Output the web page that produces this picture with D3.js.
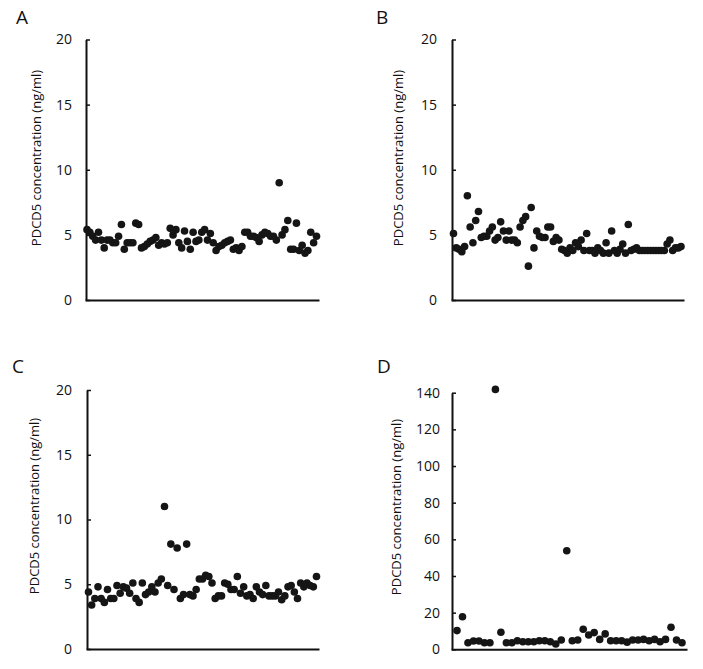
<!DOCTYPE html>
<html>
<head>
<meta charset="utf-8">
<script src="https://cdn.jsdelivr.net/npm/d3@7/dist/d3.min.js"></script>
<style>
  html, body { margin: 0; padding: 0; background: #fff; }
  svg { display: block; }
  text { font-family: "Open Sans", "Noto Sans", sans-serif; fill: #111; }
</style>
</head>
<body>
<svg id="chart" width="703" height="669"></svg>
<script>
// ---- Data ----
const panelLetters = ["A", "B", "C", "D"];
const yAxisTitle = "PDCD5 concentration (ng/ml)";
const ticksSmall = [0, 5, 10, 15, 20];
const ticksLarge = [0, 20, 40, 60, 80, 100, 120, 140];

const valuesA = [5.4, 5.2, 4.9, 4.6, 5.2, 4.6, 4.0, 4.6, 4.6, 4.4, 4.4, 4.9, 5.8, 3.9, 4.4, 4.4,
  4.4, 5.9, 5.8, 4.0, 4.1, 4.3, 4.5, 4.6, 4.8, 4.2, 4.4, 4.3, 4.4, 5.5, 5.0, 5.4, 4.4, 4.0,
  5.3, 4.5, 3.9, 5.2, 4.5, 4.6, 5.2, 5.4, 4.6, 5.1, 4.4, 3.8, 4.1, 4.2, 4.4, 4.5, 4.6, 3.9,
  4.0, 3.8, 4.1, 5.2, 5.2, 4.9, 4.9, 4.8, 4.5, 5.0, 5.2, 5.1, 4.9, 4.9, 4.6, 9.0, 5.0, 5.4,
  6.1, 3.9, 3.9, 5.9, 3.8, 4.2, 3.6, 3.8, 5.2, 4.4, 4.9];

const valuesB = [5.1, 4.0, 3.9, 3.7, 4.1, 8.0, 5.6, 4.4, 6.1, 6.8, 4.8, 4.9, 4.9, 5.3, 5.6, 4.6,
  4.8, 6.0, 5.3, 4.6, 5.3, 4.6, 4.6, 4.4, 5.6, 6.1, 6.4, 2.6, 7.1, 4.0, 5.3, 4.9, 4.8, 4.8,
  5.6, 5.6, 4.5, 4.8, 4.6, 3.9, 3.8, 3.6, 4.0, 3.8, 4.4, 4.1, 4.6, 3.8, 5.1, 3.8, 3.8, 3.6,
  4.0, 3.8, 3.6, 4.4, 3.6, 5.3, 3.8, 3.6, 3.9, 4.3, 3.6, 5.8, 3.8, 3.9, 4.0, 3.8, 3.8, 3.8,
  3.8, 3.8, 3.8, 3.8, 3.8, 3.8, 3.8, 4.3, 4.6, 3.8, 4.0, 4.0, 4.1];

const valuesC = [4.4, 3.4, 3.9, 4.8, 3.9, 3.6, 4.6, 3.9, 3.9, 4.9, 4.3, 4.8, 4.7, 4.3, 5.1, 3.9,
  3.6, 5.1, 4.2, 4.4, 4.8, 4.4, 5.1, 5.4, 11.0, 4.9, 8.1, 4.6, 7.8, 3.9, 4.2, 8.1, 4.2, 4.1,
  4.6, 5.4, 5.4, 5.7, 5.6, 5.1, 3.9, 4.1, 4.1, 5.1, 5.0, 4.6, 4.6, 5.6, 4.3, 4.8, 4.1, 4.2,
  3.9, 4.8, 4.4, 4.2, 4.9, 4.1, 4.1, 4.1, 4.4, 3.8, 4.1, 4.8, 4.9, 4.4, 3.9, 5.1, 4.8, 5.1,
  4.9, 4.8, 5.6];

const valuesD = [10.2, 17.8, 3.6, 4.5, 4.5, 3.6, 3.6, 141.8, 9.3, 3.6, 3.6, 4.7, 4.1, 4.1, 4.1,
  4.7, 4.7, 4.1, 2.9, 5.1, 53.8, 4.7, 5.1, 10.9, 7.8, 9.1, 5.4, 8.4, 4.7, 4.7, 4.7, 3.9, 5.1,
  5.1, 5.4, 4.7, 5.4, 4.1, 5.4, 12.0, 5.1, 3.6];

// ---- Layout (positions / styles only) ----
const panels = [
  { letter: panelLetters[0], values: valuesA, ticks: ticksSmall, max: 20,
    axisX: 86, right: 319, top: 39.5, bottom: 300, dotL: 87, dotR: 316.5,
    letterX: 16, letterY: 24, titleX: 36, titleY: 158, tickGap: 14 },
  { letter: panelLetters[1], values: valuesB, ticks: ticksSmall, max: 20,
    axisX: 452, right: 684, top: 39.5, bottom: 300, dotL: 453.5, dotR: 681,
    letterX: 376, letterY: 24, titleX: 398, titleY: 158, tickGap: 15 },
  { letter: panelLetters[2], values: valuesC, ticks: ticksSmall, max: 20,
    axisX: 87, right: 319, top: 390, bottom: 649, dotL: 88.5, dotR: 316.5,
    letterX: 12, letterY: 373, titleX: 34, titleY: 506, tickGap: 15 },
  { letter: panelLetters[3], values: valuesD, ticks: ticksLarge, max: 140,
    axisX: 452, right: 687, top: 392.7, bottom: 649.3, dotL: 457, dotR: 682,
    letterX: 377, letterY: 373, titleX: 396, titleY: 507, tickGap: 12 }
];

const svg = d3.select("#chart");

panels.forEach(p => {
  const g = svg.append("g");
  const y = d3.scaleLinear().domain([0, p.max]).range([p.bottom, p.top]);
  const x = d3.scalePoint().domain(d3.range(p.values.length)).range([p.dotL, p.dotR]);

  // Y axis
  const yAxis = d3.axisLeft(y).tickValues(p.ticks).tickSizeInner(-4).tickSizeOuter(0).tickPadding(p.tickGap);
  const ya = g.append("g").attr("transform", `translate(${p.axisX},0)`).call(yAxis);
  ya.select(".domain").attr("stroke", "#111").attr("stroke-width", 2);
  ya.selectAll(".tick line").attr("stroke", "#111").attr("stroke-width", 1.5);
  ya.selectAll(".tick text").attr("font-size", 14).attr("fill", "#111")
    .attr("font-family", "'Open Sans', 'Noto Sans', sans-serif");

  // X axis (plain baseline, no ticks)
  const xs = d3.scaleLinear().domain([0, 1]).range([p.axisX - 1, p.right]);
  const xAxis = d3.axisBottom(xs).tickValues([]).tickSizeOuter(0);
  const xa = g.append("g").attr("transform", `translate(0,${p.bottom})`).call(xAxis);
  xa.select(".domain").attr("stroke", "#111").attr("stroke-width", 2);

  // Dots
  g.append("g").selectAll("circle").data(p.values).join("circle")
    .attr("cx", (d, i) => x(i))
    .attr("cy", d => y(d))
    .attr("r", 3.8)
    .attr("fill", "#151515");

  // Panel letter
  g.append("text").attr("x", p.letterX).attr("y", p.letterY)
    .attr("font-size", 19).text(p.letter);

  // Y title
  g.append("text")
    .attr("transform", `translate(${p.titleX},${p.titleY}) rotate(-90)`)
    .attr("text-anchor", "middle").attr("dominant-baseline", "central")
    .attr("font-size", 13).text(yAxisTitle);
});
</script>
</body>
</html>
